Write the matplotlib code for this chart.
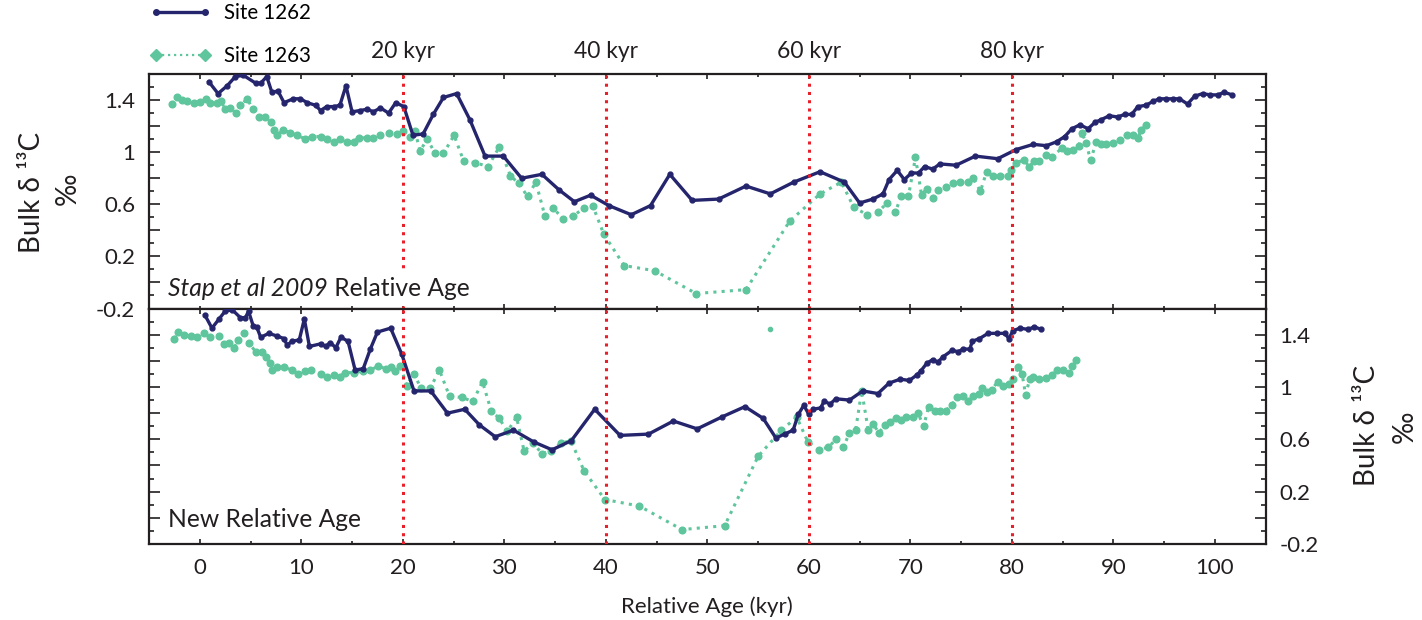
import matplotlib
matplotlib.use("Agg")
import matplotlib.pyplot as plt
import matplotlib.transforms as mtransforms
from matplotlib.lines import Line2D
from matplotlib.ticker import MultipleLocator, FuncFormatter

plt.rcParams['font.family'] = ['Lato', 'DejaVu Sans']
plt.rcParams['axes.unicode_minus'] = False

# Site 1262, Stap et al 2009 relative age (top panel)
age_1262_stap = [0.9, 1.8, 2.7, 3.5, 4.3, 5.5, 6.0, 6.6, 7.1, 7.7,
                 8.3, 9.2, 9.9, 10.6, 11.4, 11.9, 12.5, 13.2, 13.8, 14.4,
                 15.0, 15.8, 16.5, 17.1, 17.8, 18.6, 19.3, 20.1, 21.0, 22.0,
                 23.0, 24.0, 25.3, 26.6, 28.1, 29.9, 31.7, 33.7, 35.4, 36.9,
                 38.5, 40.3, 42.5, 44.4, 46.3, 48.5, 51.1, 53.8, 56.2, 58.5,
                 61.1, 63.5, 65.0, 66.3, 67.3, 67.9, 68.7, 69.4, 70.1, 70.8,
                 71.4, 72.2, 72.9, 74.5, 76.4, 78.6, 80.4, 82.1, 83.4, 84.4,
                 85.2, 85.9, 86.7, 87.5, 88.2, 88.8, 89.6, 90.4, 91.1, 91.8,
                 92.4, 93.2, 93.9, 94.5, 95.2, 95.9, 96.5, 97.3, 98.0, 98.8,
                 99.5, 100.3, 100.9, 101.7]
d13c_1262_stap = [1.54, 1.45, 1.51, 1.58, 1.59, 1.53, 1.53, 1.58, 1.46, 1.47,
                  1.38, 1.41, 1.41, 1.38, 1.36, 1.32, 1.35, 1.35, 1.36, 1.51,
                  1.31, 1.32, 1.33, 1.31, 1.34, 1.30, 1.38, 1.35, 1.13, 1.14,
                  1.29, 1.42, 1.45, 1.25, 0.97, 0.97, 0.80, 0.83, 0.71, 0.62,
                  0.67, 0.59, 0.52, 0.59, 0.83, 0.63, 0.64, 0.74, 0.68, 0.77,
                  0.85, 0.77, 0.61, 0.64, 0.68, 0.79, 0.86, 0.79, 0.84, 0.84,
                  0.89, 0.87, 0.91, 0.90, 0.97, 0.95, 1.02, 1.06, 1.05, 1.08,
                  1.12, 1.18, 1.21, 1.18, 1.23, 1.25, 1.28, 1.27, 1.29, 1.29,
                  1.35, 1.36, 1.39, 1.41, 1.41, 1.41, 1.41, 1.37, 1.43, 1.45,
                  1.44, 1.44, 1.46, 1.44]

# Site 1263, Stap et al 2009 relative age (top panel)
age_1263_stap = [-2.7, -2.2, -1.75, -1.25, -0.6, 0.05, 0.6, 1.05, 1.7, 2.1,
                 2.5, 3.0, 3.6, 4.0, 4.7, 5.2, 5.8, 6.4, 7.0, 7.3,
                 7.6, 8.2, 8.9, 9.6, 10.4, 11.05, 11.9, 12.5, 13.25, 13.8,
                 14.5, 15.15, 15.65, 16.5, 17.1, 17.8, 18.6, 19.4, 20.05, 20.7,
                 21.2, 21.7, 22.4, 23.2, 24.0, 25.05, 26.0, 27.1, 28.4, 29.5,
                 30.6, 31.4, 32.3, 33.1, 34.0, 34.8, 35.8, 36.8, 37.8, 38.7,
                 39.8, 41.8, 44.8, 48.9, 53.8, 58.1, 61.1, 63.2, 64.4, 65.7,
                 66.8, 67.7, 68.5, 69.1, 69.8, 70.5, 71.1, 71.6, 72.2, 72.7,
                 73.5, 74.2, 74.9, 75.7, 76.2, 76.9, 77.5, 78.1, 78.8, 79.6,
                 79.95, 80.4, 81.2, 81.7, 82.2, 82.7, 83.4, 83.9, 84.9, 85.4,
                 86.0, 86.6, 86.9, 87.3, 87.75, 88.3, 88.8, 89.3, 89.95, 90.6,
                 91.3, 91.9, 92.4, 92.75, 93.2]
d13c_1263_stap = [1.37, 1.42, 1.40, 1.39, 1.38, 1.385, 1.41, 1.38, 1.38, 1.39,
                  1.33, 1.34, 1.30, 1.36, 1.41, 1.33, 1.27, 1.27, 1.23, 1.17,
                  1.13, 1.17, 1.15, 1.13, 1.10, 1.12, 1.12, 1.10, 1.08, 1.10,
                  1.08, 1.08, 1.11, 1.11, 1.11, 1.13, 1.15, 1.14, 1.16, 1.12,
                  1.16, 1.01, 1.10, 0.99, 0.99, 1.13, 0.93, 0.92, 0.89, 1.04,
                  0.82, 0.76, 0.66, 0.77, 0.51, 0.57, 0.49, 0.51, 0.57, 0.59,
                  0.37, 0.13, 0.09, -0.085, -0.055, 0.47, 0.68, 0.77, 0.58, 0.52,
                  0.54, 0.61, 0.54, 0.66, 0.66, 0.96, 0.67, 0.72, 0.65, 0.71,
                  0.73, 0.76, 0.77, 0.77, 0.80, 0.70, 0.85, 0.82, 0.82, 0.82,
                  0.86, 0.92, 0.94, 0.89, 0.93, 0.935, 0.98, 0.96, 1.03, 1.01,
                  1.02, 1.05, 1.15, 1.07, 0.94, 1.075, 1.06, 1.065, 1.07, 1.095,
                  1.13, 1.13, 1.11, 1.17, 1.21]

# Site 1262, new relative age (bottom panel)
age_1262_new = [0.5, 1.2, 1.9, 2.5, 3.2, 4.0, 4.5, 4.8, 5.25, 5.6,
                6.0, 6.8, 7.6, 8.3, 8.6, 9.1, 9.8, 10.3, 10.8, 11.9,
                12.4, 12.85, 13.4, 13.9, 14.6, 15.3, 16.1, 16.8, 17.5, 18.8,
                19.9, 21.1, 22.75, 24.4, 26.1, 27.55, 29.1, 30.9, 32.9, 34.7,
                36.6, 38.9, 41.4, 44.2, 46.65, 49.0, 51.4, 53.7, 55.5, 56.75,
                57.6, 58.45, 58.95, 59.5, 60.0, 60.4, 61.15, 61.5, 62.1, 62.65,
                64.0, 65.3, 66.8, 67.9, 69.0, 69.9, 70.6, 71.0, 71.6, 72.2,
                72.7, 73.2, 74.1, 74.7, 75.2, 75.85, 76.1, 76.8, 77.65, 78.5,
                79.3, 79.7, 80.1, 80.8, 81.6, 82.2, 82.9]
d13c_1262_new = [1.55, 1.45, 1.52, 1.58, 1.59, 1.53, 1.53, 1.58, 1.47, 1.46,
                 1.38, 1.41, 1.39, 1.37, 1.32, 1.35, 1.36, 1.52, 1.31, 1.33,
                 1.31, 1.34, 1.30, 1.38, 1.35, 1.13, 1.14, 1.29, 1.42, 1.45,
                 1.25, 0.97, 0.97, 0.80, 0.83, 0.71, 0.62, 0.67, 0.58, 0.52,
                 0.59, 0.83, 0.63, 0.64, 0.74, 0.68, 0.77, 0.85, 0.76, 0.61,
                 0.64, 0.67, 0.79, 0.86, 0.79, 0.83, 0.84, 0.89, 0.87, 0.91,
                 0.90, 0.97, 0.95, 1.03, 1.06, 1.05, 1.09, 1.12, 1.18, 1.21,
                 1.19, 1.23, 1.28, 1.27, 1.29, 1.29, 1.35, 1.37, 1.41, 1.41,
                 1.41, 1.37, 1.43, 1.45, 1.44, 1.46, 1.44]

# Site 1263, new relative age (bottom panel)
age_1263_new = [-2.5, -2.1, -1.6, -0.9, -0.3, 0.4, 1.05, 1.9, 2.35, 2.85,
                3.4, 3.8, 4.4, 4.8, 5.5, 6.1, 6.55, 6.9, 7.1, 7.6,
                8.3, 9.1, 9.7, 10.4, 10.95, 11.9, 12.5, 13.2, 13.8, 14.3,
                15.15, 16.1, 16.8, 17.6, 18.3, 18.8, 19.25, 19.75, 20.4, 21.1,
                21.8, 22.7, 23.6, 24.6, 25.8, 26.9, 27.85, 28.7, 29.5, 30.3,
                31.2, 31.95, 32.8, 33.75, 34.6, 35.55, 36.55, 37.85, 39.9, 43.3,
                47.5, 51.7, 55.0, 57.3, 58.8, 59.9, 61.0, 61.9, 62.7, 63.4,
                64.0, 64.6, 65.2, 65.85, 66.3, 66.9, 67.5, 68.0, 68.6, 69.1,
                69.6, 70.3, 70.75, 71.3, 71.8, 72.4, 72.9, 73.5, 74.05, 74.6,
                75.2, 75.7, 76.2, 76.8, 77.1, 77.5, 78.0, 78.6, 79.1, 79.7,
                80.1, 80.6, 81.0, 81.35, 81.75, 82.1, 82.7, 83.4, 83.9, 84.45,
                85.0, 85.6, 85.95, 86.3]
d13c_1263_new = [1.37, 1.42, 1.40, 1.39, 1.38, 1.41, 1.38, 1.39, 1.33, 1.34,
                 1.30, 1.36, 1.41, 1.34, 1.27, 1.27, 1.23, 1.18, 1.13, 1.15,
                 1.15, 1.13, 1.10, 1.12, 1.13, 1.10, 1.08, 1.09, 1.08, 1.11,
                 1.11, 1.12, 1.13, 1.16, 1.14, 1.15, 1.12, 1.16, 1.01, 1.10,
                 0.99, 0.99, 1.13, 0.93, 0.92, 0.89, 1.04, 0.82, 0.76, 0.66,
                 0.77, 0.51, 0.57, 0.49, 0.51, 0.57, 0.59, 0.36, 0.14, 0.09,
                 -0.09, -0.06, 0.47, 0.67, 0.77, 0.58, 0.52, 0.54, 0.60, 0.54,
                 0.65, 0.67, 0.97, 0.67, 0.72, 0.65, 0.71, 0.73, 0.76, 0.75,
                 0.77, 0.77, 0.80, 0.70, 0.85, 0.82, 0.82, 0.82, 0.86, 0.92,
                 0.93, 0.89, 0.93, 0.95, 0.99, 0.96, 0.98, 1.04, 1.01, 1.02,
                 1.06, 1.15, 1.10, 0.94, 1.06, 1.08, 1.06, 1.07, 1.09, 1.13,
                 1.13, 1.11, 1.16, 1.21]

# isolated Site 1263 sample in the bottom panel
age_1263_new_single = [56.2]
d13c_1263_new_single = [1.44]

kyr_marks = [20, 40, 60, 80]

navy = '#25256d'
green = '#5ec59c'
red = '#e8202a'
dark = '#231f20'
dotted = (0, (1, 1.7))

fig = plt.figure(figsize=(14.22, 6.2), dpi=100)
ax_top = fig.add_axes([0.1048, 0.5024, 0.7853, 0.3782])
ax_bot = fig.add_axes([0.1048, 0.1226, 0.7853, 0.3798])


def ylab(v, pos):
    k = int(round(v * 10))
    if k in (-2, 2, 6, 10, 14):
        return '%g' % (k / 10)
    return ''


for ax in (ax_top, ax_bot):
    ax.set_xlim(-5, 105)
    ax.set_ylim(-0.2, 1.6)
    ax.xaxis.set_major_locator(MultipleLocator(10))
    ax.xaxis.set_minor_locator(MultipleLocator(5))
    ax.yaxis.set_major_locator(MultipleLocator(0.2))
    ax.yaxis.set_minor_locator(MultipleLocator(0.1))
    ax.yaxis.set_major_formatter(FuncFormatter(ylab))
    ax.tick_params(which='both', direction='in', top=True, right=True,
                   colors=dark, width=1.2, labelsize=16, pad=10)
    ax.tick_params(axis='y', which='major', length=8)
    ax.tick_params(axis='y', which='minor', length=3.6)
    ax.tick_params(axis='x', which='major', length=3.6)
    ax.tick_params(axis='x', which='minor', length=2.4)
    for s in ax.spines.values():
        s.set_linewidth(1.6)
        s.set_color(dark)
    for x in kyr_marks:
        ax.axvline(x, color=red, lw=2.2, linestyle=dotted, zorder=4)

ax_top.tick_params(labelbottom=False, labelleft=True, labelright=False)
ax_bot.tick_params(labelbottom=True, labelleft=False, labelright=True)

# top panel
ax_top.plot(age_1263_stap, d13c_1263_stap, color=green, lw=2.2, ls=dotted,
            marker='o', ms=4.8, mec=green, zorder=2)
ax_top.plot(age_1262_stap, d13c_1262_stap, color=navy, lw=2.4,
            marker='o', ms=3.5, mec=navy, zorder=3)

# bottom panel
ax_bot.plot(age_1263_new, d13c_1263_new, color=green, lw=2.2, ls=dotted,
            marker='o', ms=4.8, mec=green, zorder=2)
ax_bot.plot(age_1263_new_single, d13c_1263_new_single, color=green, ls='none',
            marker='o', ms=3, mec=green, zorder=2)
ax_bot.plot(age_1262_new, d13c_1262_new, color=navy, lw=2.4,
            marker='o', ms=3.5, mec=navy, zorder=3)

# panel captions
t1 = ax_top.text(0.017, 0.085, 'Stap et al 2009', transform=ax_top.transAxes,
                 fontsize=17.7, style='italic', color=dark, va='center', ha='left',
                 zorder=6, bbox=dict(facecolor='white', edgecolor='none', pad=4))
ax_top.annotate(' Relative Age', xy=(1, 0.5), xycoords=t1, va='center', ha='left',
                fontsize=17.7, color=dark, zorder=5,
                bbox=dict(facecolor='white', edgecolor='none', pad=4))
ax_bot.text(0.017, 0.105, 'New Relative Age', transform=ax_bot.transAxes,
            fontsize=17.7, color=dark, va='center', ha='left', zorder=5)

# kyr markers above the top panel
trans = mtransforms.blended_transform_factory(ax_top.transData, ax_top.transAxes)
for x in kyr_marks:
    ax_top.text(x, 1.095, '%d kyr' % x, transform=trans, ha='center', va='center',
                fontsize=16.5, color=dark, clip_on=False)

ax_bot.set_xlabel('Relative Age (kyr)', fontsize=16, color=dark, labelpad=13)

# y labels
fig.text(32 / 1422, 1 - 192 / 620, 'Bulk δ ¹³C', rotation=90, ha='center', va='center',
         fontsize=20, color=dark)
fig.text(68 / 1422, 1 - 189 / 620, '‰', rotation=90, ha='center', va='center',
         fontsize=20, color=dark)
fig.text(1367 / 1422, 1 - 425 / 620, 'Bulk δ ¹³C', rotation=90, ha='center', va='center',
         fontsize=20, color=dark)
fig.text(1405 / 1422, 1 - 427 / 620, '‰', rotation=90, ha='center', va='center',
         fontsize=20, color=dark)

handles = [Line2D([], [], color=navy, lw=2.4, marker='o', ms=4),
           Line2D([], [], color=green, lw=1.6, ls=dotted, marker='D', ms=6)]
fig.legend(handles, ['Site 1262', 'Site 1263'], loc='upper left',
           bbox_to_anchor=(0.104, 0.998), frameon=False, fontsize=14.8,
           handlelength=3.0, numpoints=2, labelspacing=1.1, borderaxespad=0,
           borderpad=0.1, handletextpad=0.6)

fig.savefig('out.png', dpi=100)
